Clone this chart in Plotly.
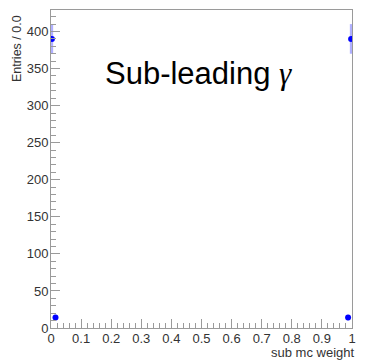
import plotly.graph_objects as go

# data
x_vals = [0.003, 0.015, 0.987, 0.997]
y_vals = [390, 14, 14, 390]
y_err = [20, 3.7, 3.7, 20]

x_title = "sub mc weight"
y_title = "Entries / 0.0"
label = "Sub-leading <span style=\"font-family:'Liberation Serif'\"><i>γ</i></span>"

fig = go.Figure()
fig.add_trace(go.Scatter(
    x=x_vals, y=y_vals, mode="markers",
    marker=dict(color="#0000ff", size=6),
    error_y=dict(type="data", array=y_err, color="rgba(80,80,255,0.45)", thickness=2.5, width=0),
    showlegend=False,
))

axis_common = dict(
    showline=True, linecolor="#9a9a9a", linewidth=1, mirror=True,
    ticks="inside", ticklen=9, tickcolor="#9a9a9a", tickwidth=1,
    showgrid=False, zeroline=False,
    tickfont=dict(family="Liberation Sans, Arial", size=13, color="#333333"),
)

fig.update_xaxes(range=[0, 1], dtick=0.1, tick0=0, ticklabelstandoff=-2,
                 minor=dict(ticks="inside", ticklen=5, dtick=0.02, tickcolor="#9a9a9a"),
                 **axis_common)
fig.update_yaxes(range=[0, 429], dtick=50, tick0=0, ticklabelstandoff=-1,
                 minor=dict(ticks="inside", ticklen=5, dtick=10, tickcolor="#9a9a9a"),
                 **axis_common)

fig.add_annotation(text=y_title, xref="paper", yref="paper", x=-0.115, y=0.99,
                   xanchor="center", yanchor="top", textangle=-90, showarrow=False,
                   font=dict(family="Liberation Sans, Arial", size=12.5, color="#333333"))
fig.add_annotation(text=x_title, xref="paper", yref="paper", x=1.012, y=-0.076,
                   xanchor="right", yanchor="middle", showarrow=False,
                   font=dict(family="Liberation Sans, Arial", size=13, color="#333333"))
fig.add_annotation(text=label, xref="paper", yref="paper", x=0.49, y=0.80,
                   xanchor="center", yanchor="middle", showarrow=False,
                   font=dict(family="Liberation Sans, Arial", size=31, color="#000000"))

fig.update_layout(
    width=365, height=361,
    margin=dict(l=51, r=9, t=10, b=33),
    paper_bgcolor="white", plot_bgcolor="white",
)

fig.write_html("out.html")
